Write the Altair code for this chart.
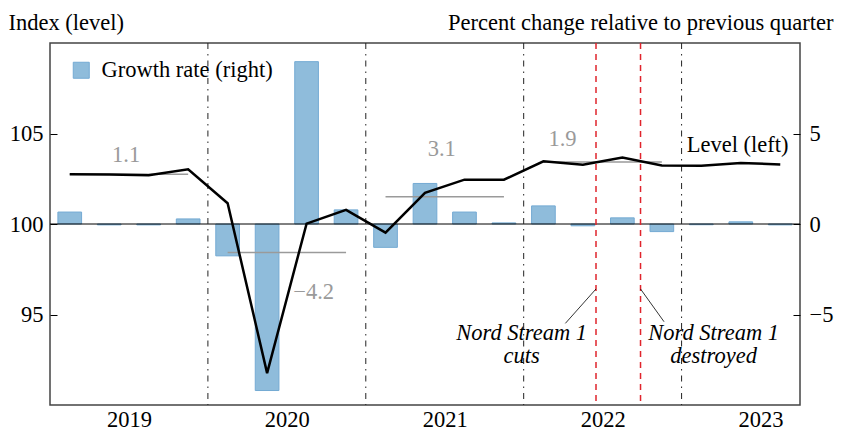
import altair as alt
import pandas as pd

# ---- data ----
quarters = ["2019Q1", "2019Q2", "2019Q3", "2019Q4",
            "2020Q1", "2020Q2", "2020Q3", "2020Q4",
            "2021Q1", "2021Q2", "2021Q3", "2021Q4",
            "2022Q1", "2022Q2", "2022Q3", "2022Q4",
            "2023Q1", "2023Q2", "2023Q3"]
level = [102.75, 102.73, 102.70, 103.02,
         101.15, 91.76, 100.02, 100.78,
         99.52, 101.72, 102.45, 102.45,
         103.46, 103.28, 103.67, 103.23,
         103.22, 103.37, 103.29]
growth = [0.66, -0.05, -0.05, 0.28,
          -1.76, -9.2, 8.97, 0.78,
          -1.29, 2.24, 0.66, 0.06,
          1.0, -0.1, 0.34, -0.42,
          -0.04, 0.12, -0.05]

avg_years = [2019, 2020, 2021, 2022]
avg_level = [102.75, 98.43, 101.5, 103.42]
avg_label = ["1.1", "\u22124.2", "3.1", "1.9"]
avg_label_t = [2019.482, 2020.67, 2021.481, 2022.246]
avg_label_y = [103.42, 95.87, 103.75, 104.29]

year_lines = [2020, 2021, 2022, 2023]
year_labels = [2019, 2020, 2021, 2022, 2023]
event_t = [2022.458, 2022.74]

ann_text = ["Nord Stream 1", "cuts", "Nord Stream 1", "destroyed"]
ann_t = [2021.987, 2021.987, 2023.203, 2023.203]
ann_y = [93.57, 92.30, 93.57, 92.30]
conn_t0 = [2022.264, 2022.889]
conn_y0 = [94.51, 94.60]
conn_t1 = [2022.458, 2022.74]
conn_y1 = [96.41, 96.41]

FONT = "Liberation Serif"
FS = 22.5

def qt(q):
    return int(q[:4]) + (int(q[-1]) - 0.5) / 4

df = pd.DataFrame({"q": quarters, "level": level, "growth": growth})
df["t"] = [qt(q) for q in quarters]
df["t0"] = df["t"] - 0.075
df["t1"] = df["t"] + 0.075
df["series"] = "Growth rate (right)"

avg_df = pd.DataFrame({"y0": [y + 0.125 for y in avg_years],
                       "y1": [y + 0.875 for y in avg_years],
                       "lvl": avg_level})
avg_lab_df = pd.DataFrame({"t": avg_label_t, "y": avg_label_y, "txt": avg_label})
yl_df = pd.DataFrame({"t": year_lines})
ev_df = pd.DataFrame({"t": event_t})
ann_df = pd.DataFrame({"t": ann_t, "y": ann_y, "txt": ann_text})
conn_df = pd.DataFrame({"t0": conn_t0, "y0": conn_y0, "t1": conn_t1, "y1": conn_y1})
lvl_lab_df = pd.DataFrame({"t": [2023.355], "y": [103.99], "txt": ["Level (left)"]})
zero_df = pd.DataFrame({"v": [100]})

xscale = alt.Scale(domain=[2019, 2023.75], nice=False, zero=False)
lscale = alt.Scale(domain=[90, 110], nice=False, zero=False)
rscale = alt.Scale(domain=[-10, 10], nice=False)

xaxis = alt.Axis(values=[y + 0.5 for y in year_labels],
                 labelExpr="floor(datum.value)", ticks=False, tickSize=0,
                 domain=False, grid=False, labelPadding=3, labelFont=FONT,
                 labelFontSize=FS, labelColor="black", title=None,
                 labelBaseline="top")

laxis = alt.Axis(values=[95, 100, 105], offset=-7, tickSize=7, tickColor="black",
                 tickWidth=1, domain=False, grid=False, labelPadding=7,
                 labelFont=FONT, labelFontSize=FS, labelColor="black",
                 title="Index (level)", titleAngle=0, titleX=-49, titleY=-14,
                 titleAlign="left", titleBaseline="alphabetic", titleFont=FONT,
                 titleFontSize=FS, titleFontWeight="normal", titleColor="black")

raxis = alt.Axis(values=[-5, 0, 5], offset=-7, tickSize=7, tickColor="black",
                 tickWidth=1, domain=False, grid=False, labelPadding=9,
                 labelFont=FONT, labelFontSize=FS, labelColor="black",
                 orient="right",
                 title="Percent change relative to previous quarter",
                 titleAngle=0, titleX=40, titleY=-14, titleAlign="right",
                 titleBaseline="alphabetic", titleFont=FONT, titleFontSize=FS,
                 titleFontWeight="normal", titleColor="black")

X = lambda f: alt.X(f, type="quantitative", scale=xscale, axis=xaxis)
Yl = lambda f: alt.Y(f, type="quantitative", scale=lscale, axis=laxis)

# right scale group: bars
bars = alt.Chart(df).mark_bar(stroke="#74aad3", strokeWidth=1).encode(
    x=X("t0"), x2="t1",
    y=alt.Y("growth:Q", scale=rscale, axis=raxis),
    y2=alt.datum(0),
    color=alt.Color("series:N",
                    scale=alt.Scale(domain=["Growth rate (right)"], range=["#8fbcdb"]),
                    legend=alt.Legend(title=None, orient="none", legendX=20, legendY=16,
                                      symbolType="square", symbolSize=256,
                                      symbolStrokeColor="#74aad3", symbolStrokeWidth=1,
                                      labelFont=FONT, labelFontSize=FS, labelLimit=400,
                                      labelColor="black", labelOffset=9, padding=0)),
)

# left scale group
zero = alt.Chart(zero_df).mark_rule(color="black", strokeWidth=1).encode(y=Yl("v"))

yrules = alt.Chart(yl_df).mark_rule(color="#222", strokeWidth=1,
                                    strokeDash=[6, 5, 1.5, 5]).encode(x=X("t"))
evrules = alt.Chart(ev_df).mark_rule(color="#e0242c", strokeWidth=1.5,
                                     strokeDash=[6, 5]).encode(x=X("t"))

avg_lines = alt.Chart(avg_df).mark_rule(color="#9a9a9a", strokeWidth=1.5).encode(
    x=X("y0"), x2="y1", y=Yl("lvl"))

line = alt.Chart(df).mark_line(color="black", strokeWidth=2.5, strokeJoin="miter").encode(
    x=X("t"), y=Yl("level"))

avg_text = alt.Chart(avg_lab_df).mark_text(font=FONT, fontSize=FS, color="#9a9a9a",
                                           align="center", baseline="alphabetic").encode(
    x=X("t"), y=Yl("y"), text="txt:N")

lvl_text = alt.Chart(lvl_lab_df).mark_text(font=FONT, fontSize=FS, color="black",
                                           align="center", baseline="alphabetic").encode(
    x=X("t"), y=Yl("y"), text="txt:N")

ann_textm = alt.Chart(ann_df).mark_text(font=FONT, fontSize=FS, fontStyle="italic",
                                        color="black", align="center",
                                        baseline="alphabetic").encode(
    x=X("t"), y=Yl("y"), text="txt:N")

conn = alt.Chart(conn_df).mark_rule(color="black", strokeWidth=0.8).encode(
    x=X("t0"), x2="t1", y=Yl("y0"), y2="y1")

left = alt.layer(zero, yrules, evrules, avg_lines, line, avg_text, lvl_text,
                 ann_textm, conn)

chart = alt.layer(bars, left).resolve_scale(y="independent").properties(
    width=750, height=362,
    background="white",
    autosize=alt.AutoSizeParams(type="none"),
    padding={"left": 42, "top": 35, "right": 34, "bottom": 25},
).configure_view(stroke="#444", strokeWidth=1.5)

chart.save("out.html", embed_options={"renderer": "svg", "actions": False})
